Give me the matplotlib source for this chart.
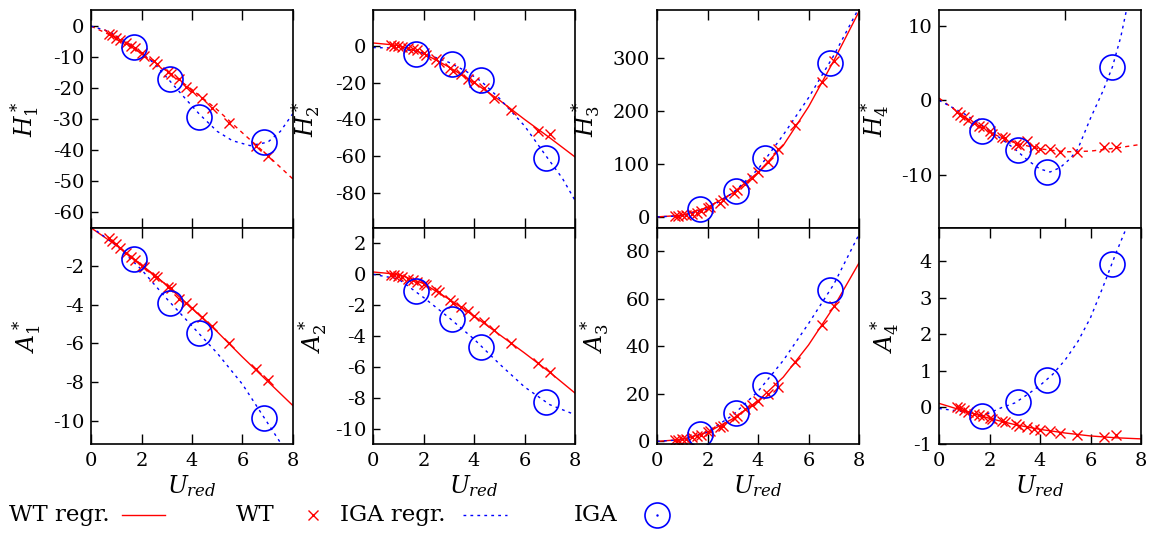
import numpy as np
import matplotlib
matplotlib.use("Agg")
from matplotlib import pyplot as plt
from matplotlib.lines import Line2D

plt.rcParams['font.family'] = ['DejaVu Serif']
plt.rcParams['mathtext.fontset'] = 'dejavuserif'
plt.rcParams['axes.unicode_minus'] = False

# wind tunnel (WT) measurements
u_wt = [0.7, 0.85, 1.0, 1.15, 1.4, 1.6, 1.75, 2.0, 2.1, 2.5, 2.6, 3.05, 3.15, 3.5, 3.75, 4.0, 4.4, 4.8, 5.45, 6.55, 7.0]
h1_wt = [-2.4, -3.0, -3.8, -4.5, -5.4, -6.3, -7.0, -8.8, -9.6, -11.3, -12.2, -14.8, -15.5, -17.1, -19.6, -20.9, -23.1, -26.5, -31.4, -38.6, -41.8]
h2_wt = [0.5, 0.0, -0.3, -0.6, -1.2, -2.0, -2.5, -4.0, -5.0, -7.4, -8.7, -12.0, -13.8, -15.4, -17.9, -19.6, -22.7, -28.3, -35.0, -46.3, -48.0]
h3_wt = [1, 2, 3, 4, 5.5, 8, 11, 16, 19, 26.5, 31, 46, 50, 62, 73, 85, 104, 128, 174, 254, 295]
h4_wt = [-1.5, -1.9, -2.2, -2.6, -3.1, -3.4, -3.6, -4.1, -4.5, -4.9, -5.1, -5.8, -6.0, -5.5, -6.3, -6.5, -6.5, -6.9, -6.9, -6.3, -6.2]
a1_wt = [-0.6, -0.75, -0.9, -1.1, -1.35, -1.55, -1.7, -2.0, -2.05, -2.55, -2.6, -3.1, -3.15, -3.7, -3.9, -4.2, -4.65, -5.1, -6.0, -7.3, -7.9]
a2_wt = [-0.06, -0.06, -0.1, -0.17, -0.28, -0.34, -0.5, -0.6, -0.71, -1.03, -1.14, -1.68, -1.85, -2.15, -2.37, -2.69, -3.08, -3.62, -4.48, -5.77, -6.35]
a3_wt = [0.5, 0.7, 0.9, 1.2, 1.8, 2.3, 2.8, 3.8, 4.2, 6.0, 6.6, 9.8, 10.5, 13.5, 15.2, 17.0, 19.8, 22.8, 33.5, 49.0, 57.0]
a4_wt = [0.0, -0.03, -0.06, -0.12, -0.18, -0.21, -0.23, -0.29, -0.32, -0.38, -0.41, -0.45, -0.5, -0.53, -0.58, -0.61, -0.65, -0.71, -0.75, -0.8, -0.75]

# WT regression curves
u_fit = [0, 1, 2, 3, 4, 5, 6, 7, 8]
h1_wt_fit = [0, -3.8, -8.8, -14.5, -20.5, -27, -34.5, -41.8, -49.4]
h2_wt_fit = [1.5, 0.2, -4.2, -11.5, -20, -29.5, -40, -50, -60.4]
h3_wt_fit = [0, 3, 18, 45, 84, 135, 208, 295, 388]
h4_wt_fit = [0.3, -2.2, -4.3, -5.7, -6.5, -6.9, -6.8, -6.4, -5.9]
a1_wt_fit = [-0.05, -0.95, -1.95, -3.0, -4.2, -5.4, -6.7, -7.95, -9.2]
a2_wt_fit = [0.15, 0.0, -0.6, -1.6, -2.7, -3.9, -5.1, -6.35, -7.7]
a3_wt_fit = [0, 0.8, 3.8, 9.5, 17, 27, 40.5, 56.5, 75]
a4_wt_fit = [0.11, -0.1, -0.3, -0.47, -0.6, -0.7, -0.78, -0.83, -0.86]

# IGA simulations
u_iga = [1.71, 3.12, 4.29, 6.86]
h1_iga = [-6.8, -17.0, -29.4, -37.5]
h2_iga = [-4.5, -9.9, -18.8, -61.0]
h3_iga = [14, 48.7, 111, 291]
h4_iga = [-4.1, -6.7, -9.6, 4.46]
a1_iga = [-1.67, -3.9, -5.48, -9.85]
a2_iga = [-1.1, -2.92, -4.73, -8.3]
a3_iga = [3.1, 12.0, 23.7, 63.5]
a4_iga = [-0.23, 0.16, 0.74, 3.93]

# IGA regression curves
h1_iga_u = [0, 0.75, 1.7, 2.5, 3.1, 3.8, 4.3, 5.0, 5.6, 6.3, 7.0, 7.5, 8.0]
h1_iga_fit = [0, -1.8, -6.8, -12, -17.5, -24, -28.5, -34, -37, -38.6, -37.5, -34, -28.2]
h2_iga_u = [0, 1, 2, 3, 3.7, 4.3, 5, 6, 6.86, 7.5, 8]
h2_iga_fit = [-1, -1.3, -4, -9, -14, -19.5, -28.5, -43.5, -60, -72, -84]
h3_iga_u = [0, 1, 2, 3, 4, 5, 6, 7, 8]
h3_iga_fit = [0, 2, 15, 45, 90, 155, 225, 305, 395]
h4_iga_u = [0, 1, 2, 3, 3.5, 4, 4.4, 4.8, 5.2, 5.5, 6.0, 6.5, 6.87, 7.2, 7.45]
h4_iga_fit = [0, -1.8, -4, -6.5, -8.0, -9.2, -9.6, -9.0, -7.8, -6.5, -2.4, 1.3, 4.5, 8.5, 12.5]
a1_iga_u = [0, 1, 2, 3, 4, 5, 6, 7, 7.55]
a1_iga_fit = [0, -0.95, -2.2, -3.7, -5.1, -6.5, -8.1, -10.1, -11.2]
a2_iga_u = [0, 1, 2, 3, 4, 5, 6, 7, 8]
a2_iga_fit = [0, -0.3, -1.5, -2.8, -4.2, -5.8, -7.3, -8.45, -9.1]
a3_iga_u = [0, 1, 2, 3, 4, 5, 6, 7, 8]
a3_iga_fit = [0, 0.7, 4.0, 11, 21, 34, 49.5, 66, 87]
a4_iga_u = [0, 1, 1.7, 2, 2.5, 3, 3.5, 4, 4.5, 5, 5.5, 6, 6.5, 7, 7.45]
a4_iga_fit = [-0.03, -0.12, -0.22, -0.15, 0.0, 0.12, 0.35, 0.6, 0.9, 1.3, 1.8, 2.45, 3.3, 4.2, 4.95]

panels = [
    ('$H_1^*$', h1_wt, h1_wt_fit, h1_iga, h1_iga_u, h1_iga_fit, (-65.2, 5.2), [0, -10, -20, -30, -40, -50, -60], 'dash'),
    ('$H_2^*$', h2_wt, h2_wt_fit, h2_iga, h2_iga_u, h2_iga_fit, (-99, 19.4), [0, -20, -40, -60, -80], 'solid'),
    ('$H_3^*$', h3_wt, h3_wt_fit, h3_iga, h3_iga_u, h3_iga_fit, (-21, 391), [0, 100, 200, 300], 'solid'),
    ('$H_4^*$', h4_wt, h4_wt_fit, h4_iga, h4_iga_u, h4_iga_fit, (-17.1, 12.1), [-10, 0, 10], 'dash'),
    ('$A_1^*$', a1_wt, a1_wt_fit, a1_iga, a1_iga_u, a1_iga_fit, (-11.17, -0.06), [-2, -4, -6, -8, -10], 'solid'),
    ('$A_2^*$', a2_wt, a2_wt_fit, a2_iga, a2_iga_u, a2_iga_fit, (-11, 3), [2, 0, -2, -4, -6, -8, -10], 'solid'),
    ('$A_3^*$', a3_wt, a3_wt_fit, a3_iga, a3_iga_u, a3_iga_fit, (-1.1, 89.7), [0, 20, 40, 60, 80], 'solid'),
    ('$A_4^*$', a4_wt, a4_wt_fit, a4_iga, a4_iga_u, a4_iga_fit, (-1, 4.9), [-1, 0, 1, 2, 3, 4], 'solid'),
]

W, H = 1151, 533
fig = plt.figure(figsize=(W / 100, H / 100), dpi=100)

col_left = [91, 373, 657, 939]
row_top = [10, 228]
row_bot = [228, 444]
label_x = [-0.25, -0.25, -0.27, -0.24, -0.24, -0.22, -0.23, -0.19]

red_dash = (0, (3, 3))
blue_dot = (0, (2, 3))

for i, (lab, wt, wt_fit, iga, iga_u, iga_fit, ylim, yticks, red_style) in enumerate(panels):
    r, c = divmod(i, 4)
    left = col_left[c] / W
    bottom = (H - row_bot[r]) / H
    height = (row_bot[r] - row_top[r]) / H
    ax = fig.add_axes([left, bottom, 202 / W, height])

    ax.plot(u_fit, wt_fit, color='red', lw=1,
            linestyle=red_dash if red_style == 'dash' else '-')
    ax.plot(iga_u, iga_fit, color='blue', lw=1, linestyle=blue_dot)
    ax.plot(u_wt, wt, 'x', color='red', ms=7, mew=1)
    ax.plot(u_iga, iga, 'o', mfc='none', mec='blue', ms=18, mew=1.2)

    ax.set_xlim(0, 8)
    ax.set_ylim(*ylim)
    ax.set_yticks(yticks)
    if i == 3:
        ax.set_xticks([5])
    else:
        ax.set_xticks([0, 2, 4, 6, 8])
    ax.tick_params(axis='x', direction='in', top=True, bottom=True, length=7, width=1,
                   labelsize=14, pad=6)
    ax.tick_params(axis='y', direction='in', right=False, length=5, width=1,
                   labelsize=14, pad=5)
    if r == 0:
        ax.tick_params(axis='x', labelbottom=False)
    else:
        ax.set_xlabel('$U_{red}$', fontsize=17, labelpad=2)
    ax.set_ylabel(lab, fontsize=17)
    ax.yaxis.set_label_coords(label_x[i], 0.5)
    for s in ax.spines.values():
        s.set_linewidth(1.2)

# key along the bottom
ky = 1 - 515 / H
fs = 16.5
fig.text(110 / W, ky, 'WT regr.', ha='right', va='center', fontsize=fs)
fig.add_artist(Line2D([122 / W, 165 / W], [ky, ky], color='red', lw=1, transform=fig.transFigure))
fig.text(275 / W, ky, 'WT', ha='right', va='center', fontsize=fs)
fig.add_artist(Line2D([313 / W], [ky], marker='x', color='red', ms=7, mew=1, transform=fig.transFigure))
fig.text(445 / W, ky, 'IGA regr.', ha='right', va='center', fontsize=fs)
fig.add_artist(Line2D([463 / W, 507 / W], [ky, ky], color='blue', lw=1, linestyle=blue_dot, transform=fig.transFigure))
fig.text(617 / W, ky, 'IGA', ha='right', va='center', fontsize=fs)
fig.add_artist(Line2D([657 / W], [ky], marker='o', mfc='none', mec='blue', ms=18, mew=1.2, transform=fig.transFigure))
fig.add_artist(Line2D([657 / W], [ky], marker='.', color='blue', ms=1.5, transform=fig.transFigure))

fig.savefig('out.png', dpi=100)
